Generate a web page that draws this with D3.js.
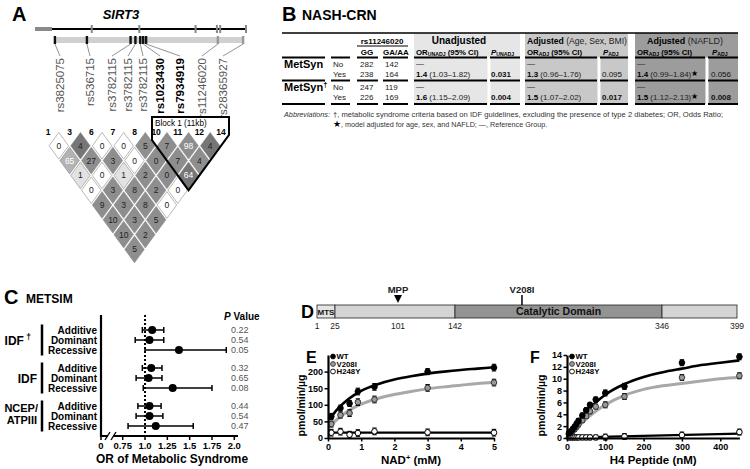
<!DOCTYPE html>
<html><head><meta charset="utf-8">
<script src="https://cdn.jsdelivr.net/npm/d3@7/dist/d3.min.js"></script>
<style>
html,body{margin:0;padding:0;background:#fff;}
svg{display:block;font-family:"Liberation Sans",Arial,Helvetica,sans-serif;}
</style></head>
<body>
<svg id="fig" width="750" height="469"></svg>
<script>
// ================= DATA =================
// Panel A – SIRT3 SNPs and LD
const snpNames = ["rs3825075","rs536715","rs3782115","rs3782115","rs3782115","rs1023430","rs7934919","rs11246020","rs28365927"];
const snpHighlight = [0,0,0,0,0,1,1,0,0];
const snpIds = ["1","3","6","7","8","10","11","12","14"];
const snpGenomic = [1.5, 18, 40.5, 43, 45.5, 47, 48.5, 85.5, 98.5];
const exonGenomic = [20.5, 45, 74, 85, 86.7, 100];
const ldValues = [[0,4,0,0,5,7,98,4],[65,27,3,0,0,7,4],[1,0,1,2,0,64],[0,3,8,2,0],[9,3,8,0],[10,3,5],[10,2],[5]];
const ldClass  = [[0,3,0,0,2,2,2,3],[1,2,2,0,2,2,2],[4,0,4,2,2,3],[0,2,2,2,0],[2,2,2,0],[2,2,2],[2,2],[2]];
const blockLabel = "Block 1 (11kb)";

// Panel B – NASH-CRN table
const tblRows = ["MetSyn","MetSyn"];
const tblDagger = [false,true];
const tblSub = ["No","Yes"];
const tblGG = [[282,238],[247,226]];
const tblGA = [[142,164],[119,169]];
const orUnadjEst = ["1.4","1.6"], orUnadjCI = ["(1.03–1.82)","(1.15–2.09)"], pUnadj = ["0.031","0.004"], pUnadjSig = [true,true];
const orAdjEst = ["1.3","1.5"], orAdjCI = ["(0.96–1.76)","(1.07–2.02)"], pAdj = ["0.095","0.017"], pAdjSig = [false,true];
const orNafEst = ["1.4","1.5"], orNafCI = ["(0.99–1.84)","(1.12–2.13)"], pNaf = ["0.056","0.008"], pNafSig = [false,true];

// Panel C – METSIM forest plot
const cGroups = ["IDF","IDF","NCEP/ATPIII"];
const cModels = ["Additive","Dominant","Recessive"];
const cOR = [1.08,1.05,1.38, 1.07,1.04,1.31, 1.05,1.05,1.12];
const cLo = [0.97,0.89,1.00, 0.97,0.90,0.98, 0.92,0.90,0.81];
const cHi = [1.21,1.21,1.91, 1.19,1.19,1.75, 1.18,1.20,1.54];
const cP  = ["0.22","0.54","0.05","0.32","0.65","0.08","0.44","0.54","0.47"];
const cTicks = [0.75,1.0,1.25,1.5,1.75,2.0];
const cTickLabels = ["0.75","1.0","1.25","1.5","1.75","2.0"];

// Panel D – SIRT3 domains
const dTicks = [1,25,101,142,346,399];
const dSegStart = [1,25,142,346];
const dSegEnd = [25,142,346,399];
const dSegName = ["MTS","","Catalytic Domain",""];
const dSites = [{name:"MPP", pos:101, kind:"cleave"},{name:"V208I", pos:208, kind:"variant"}];

// Panel E – NAD+ kinetics
const eX   = [0.1,0.375,0.65,0.9,1.4,3,5];
const eWT  = [65,90,104,140,154,200,212];
const eWTe = [9,9,9,10,10,9,10];
const eV   = [42,69,75,108,116,151,167];
const eVe  = [9,9,10,10,10,10,10];
const eH   = [16,19,10,15,20,17,16];
const eHe  = [10,10,10,10,10,10,10];
const eFitX  = [0.08,0.15,0.25,0.35,0.5,0.75,1,1.5,2,2.5,3,3.5,4,4.5,5];
const eFitWT = [60,70,83,94,108,127,142,162,176,186,194,200,205,209,213];
const eFitV  = [36,44,54,62,74,90,102,119,131,140,148,154,159,164,167];
const eFitHX = [0.1,5];
const eFitH  = [16,16];

// Panel F – H4 peptide kinetics
const fX   = [5,10,15,20,25,30,40,50,60,75,100,150,300,450];
const fWT  = [0.8,1.1,1.5,1.9,2.4,2.9,3.8,4.7,5.6,6.5,7.6,8.7,12.7,13.7];
const fWTe = [0.4,0.4,0.4,0.4,0.4,0.4,0.4,0.4,0.4,0.4,0.5,0.5,0.5,0.5];
const fV   = [0.6,0.9,1.2,1.5,1.9,2.3,3.0,3.7,4.5,5.3,5.6,7.0,10.2,10.5];
const fVe  = [0.4,0.4,0.4,0.4,0.4,0.4,0.4,0.4,0.4,0.4,0.5,0.5,0.5,0.5];
const fH   = [0.1,0.1,0.1,0.1,0.1,0.1,0.1,0.1,0.1,0.1,0.15,0.25,0.5,1.0];
const fHe  = [0.4,0.4,0.4,0.4,0.4,0.4,0.4,0.4,0.4,0.4,0.5,0.5,0.5,0.5];
const fFitX  = [2,25,50,75,100,150,200,250,300,350,400,450];
const fFitWT = [0.1,2.4,4.4,6.0,7.3,9.1,10.3,11.1,11.7,12.3,12.7,13.1];
const fFitV  = [0.1,1.7,3.2,4.5,5.6,7.2,8.2,8.8,9.2,9.6,10.0,10.2];
const fFitHX = [2,450];
const fFitH  = [0.05,0.75];

const legendNames = ["WT","V208I","H248Y"];

// ================= DRAWING =================
const FONT = '"Liberation Sans", Arial, Helvetica, sans-serif';
const svg = d3.select("#fig");
function T(g, x, y, s, o = {}) {
  const t = g.append("text").attr("x", x).attr("y", y)
    .attr("font-size", o.size || 10)
    .attr("font-weight", o.bold ? "bold" : "normal")
    .attr("fill", o.fill || "#000")
    .attr("text-anchor", o.anchor || "start");
  if (o.italic) t.attr("font-style", "italic");
  if (o.len) t.attr("textLength", o.len).attr("lengthAdjust", "spacingAndGlyphs");
  if (s !== null && s !== undefined) t.text(s);
  return t;
}
function L(g, x1, y1, x2, y2, w, c) {
  return g.append("line").attr("x1", x1).attr("y1", y1).attr("x2", x2).attr("y2", y2)
    .attr("stroke", c || "#000").attr("stroke-width", w || 1);
}

// ---------- PANEL A ----------
const A = svg.append("g");
T(A, 12, 21, "A", {size: 20, bold: true});
T(A, 121, 19, "SIRT3", {size: 13, bold: true, italic: true, anchor: "middle"});
const gx = d3.scaleLinear().domain([0, 100]).range([52, 246]);
A.append("rect").attr("x", 35).attr("y", 27).attr("width", 17).attr("height", 4).attr("fill", "#8a8a8a");
L(A, gx(0), 29, gx(100), 29, 2);
A.selectAll(".exon").data(exonGenomic).join("rect").attr("x", d => gx(d) - 1).attr("y", 25)
  .attr("width", 2).attr("height", 8).attr("fill", "#888");
A.append("rect").attr("x", gx(1.5)).attr("y", 37).attr("width", gx(98.5) - gx(1.5)).attr("height", 6).attr("fill", "#d0d0d0");
const lx = d3.scaleLinear().domain([0,1,2,3,4,5,6,7,8]).range([60,90,112,128,143,160,180,202,223]);
A.selectAll(".mk").data(snpGenomic).join("rect").attr("x", d => gx(d) - 1.2).attr("y", 36)
  .attr("width", 2.4).attr("height", 8).attr("fill", (d, i) => i >= 7 ? "#999" : "#111");
A.selectAll(".lead").data(snpGenomic).join("line").attr("x1", d => gx(d)).attr("y1", 44)
  .attr("x2", (d, i) => lx(i)).attr("y2", 56).attr("stroke", "#777").attr("stroke-width", 0.8);
A.selectAll(".snp").data(snpNames).join("text")
  .attr("transform", (d, i) => `translate(${lx(i)},58) rotate(-90)`)
  .attr("dy", "0.35em").attr("text-anchor", "end").attr("font-size", 11.5)
  .attr("font-weight", (d, i) => snpHighlight[i] ? "bold" : "normal")
  .attr("fill", (d, i) => snpHighlight[i] ? "#000" : "#555").text(d => d);

const sx = d3.scaleLinear().domain([0, 8]).range([48, 221]);
const hw = (sx(1) - sx(0)) / 2, hh = 14.8, ldTop = 131;
const ldColor = d3.scaleOrdinal().domain([0,1,2,3,4]).range(["#ffffff","#b3b3b3","#8e8e8e","#767676","#e2e2e2"]);
const cells = [];
ldValues.forEach((row, r) => row.forEach((v, i) => cells.push({
  v, c: ldClass[r][i], cx: (sx(i) + sx(i + r + 1)) / 2, cy: ldTop + hh * (r + 1)
})));
const k = 0.9;
A.selectAll(".ld").data(cells).join("path")
  .attr("d", d => `M${d.cx},${d.cy - hh * k}L${d.cx + hw * k},${d.cy}L${d.cx},${d.cy + hh * k}L${d.cx - hw * k},${d.cy}Z`)
  .attr("fill", d => ldColor(d.c)).attr("stroke", "#8a8a8a").attr("stroke-width", 0.6);
A.selectAll(".ldt").data(cells).join("text").attr("x", d => d.cx).attr("y", d => d.cy + 3)
  .attr("text-anchor", "middle").attr("font-size", 8.5)
  .attr("fill", d => d.v >= 50 ? "#fff" : "#222").text(d => d.v);
A.selectAll(".sid").data(snpIds).join("text").attr("x", (d, i) => sx(i)).attr("y", 134.5)
  .attr("text-anchor", "middle").attr("font-size", 8.5).attr("font-weight", "bold").text(d => d);
const bL = 152, bR = 229, bTop = 117;
const bBot = {x: (sx(5) + sx(8)) / 2, y: ldTop + hh * 4};
const slope = hh / hw;
A.append("path").attr("d", `M${bL},${bTop}H${bR}V${bBot.y - (bR - bBot.x) * slope}L${bBot.x},${bBot.y}L${bL},${bBot.y - (bBot.x - bL) * slope}Z`)
  .attr("fill", "none").attr("stroke", "#000").attr("stroke-width", 2);
T(A, bL + 3, 125.5, blockLabel, {size: 8.2});

// ---------- PANEL B ----------
const B = svg.append("g");
T(B, 282, 21, "B", {size: 20, bold: true});
T(B, 302, 20, "NASH-CRN", {size: 14, bold: true});
const tTop = 33, tHdr = 57.5, tBot = 104;
const rowTop = [57.5, 80.5];
const blocks = [[414,520,"#e6e6e6"],[525,628,"#c8c8c8"],[635,738,"#9c9c9c"]];
blocks.forEach(b => B.append("rect").attr("x", b[0]).attr("y", tTop).attr("width", b[1] - b[0]).attr("height", tBot - tTop).attr("fill", b[2]));
[487.5, 597.5, 705.5].forEach(x => B.append("rect").attr("x", x).attr("y", tHdr).attr("width", 3).attr("height", tBot - tHdr).attr("fill", "#fff"));
L(B, 282, tTop, 738, tTop, 1.5);
const segs = [[282,325],[331,350],[357,378],[383,408],[414,487],[490,520],[525,597],[600,628],[635,705],[708,738]];
[tHdr, rowTop[1], tBot].forEach(y => segs.forEach(s => L(B, s[0], y, s[1], y, 2)));
T(B, 382, 43.5, "rs11246020", {size: 8, bold: true, anchor: "middle"});
L(B, 357, 46, 408, 46, 1);
T(B, 367, 54.5, "GG", {size: 8, bold: true, anchor: "middle"});
T(B, 396, 54.5, "GA/AA", {size: 8, bold: true, anchor: "middle"});
T(B, 459, 44, "Unadjusted", {size: 10, bold: true, anchor: "middle"});
const hA = T(B, 527, 44, null, {size: 9.5, len: 100});
hA.append("tspan").attr("font-weight", "bold").text("Adjusted");
hA.append("tspan").attr("fill", "#222").text(" (Age, Sex, BMI)");
const hN = T(B, 647, 44, null, {size: 9.5, len: 76});
hN.append("tspan").attr("font-weight", "bold").text("Adjusted");
hN.append("tspan").attr("fill", "#222").text(" (NAFLD)");
function orHead(x, sub) {
  const h = T(B, x, 54.5, null, {size: 7.8, bold: true});
  h.append("tspan").text("OR");
  h.append("tspan").attr("font-size", 5.2).attr("dy", 1.5).text(sub);
  h.append("tspan").attr("dy", -1.5).text(" (95% CI)");
}
function pHead(x, sub) {
  const h = T(B, x, 54.5, null, {size: 7.8, bold: true});
  h.append("tspan").attr("font-style", "italic").text("P");
  h.append("tspan").attr("font-size", 5.2).attr("dy", 1.5).text(sub);
}
orHead(416, "UNADJ"); pHead(491, "UNADJ");
orHead(527, "ADJ"); pHead(603, "ADJ");
orHead(637, "ADJ"); pHead(712, "ADJ");
function orCell(x, y, est, ci, star) {
  const t = T(B, x, y, null, {size: 8, fill: "#222"});
  t.append("tspan").attr("font-weight", "bold").attr("fill", "#000").text(est);
  t.append("tspan").text(" " + ci);
  if (star) t.append("tspan").attr("font-size", 7.5).attr("dy", -1).attr("fill", "#000").text("★");
}
tblRows.forEach((name, r) => {
  const y0 = rowTop[r];
  const nt = T(B, 284, y0 + 10, null, {size: 11, bold: true});
  nt.append("tspan").text(name);
  if (tblDagger[r]) nt.append("tspan").attr("font-size", 7.5).attr("dy", -4).text("†");
  tblSub.forEach((s, j) => {
    const y = y0 + 9 + j * 10.5;
    T(B, 333, y, s, {size: 8, fill: "#222"});
    T(B, 360, y, tblGG[r][j], {size: 8, fill: "#222"});
    T(B, 385, y, tblGA[r][j], {size: 8, fill: "#222"});
  });
  [416, 527, 637].forEach(x => T(B, x, y0 + 8.5, "—", {size: 8, fill: "#222"}));
  const yy = y0 + 19.5;
  orCell(416, yy, orUnadjEst[r], orUnadjCI[r], false);
  orCell(527, yy, orAdjEst[r], orAdjCI[r], false);
  orCell(637, yy, orNafEst[r], orNafCI[r], true);
  T(B, 491, yy, pUnadj[r], {size: 8, bold: pUnadjSig[r], fill: "#111"});
  T(B, 602, yy, pAdj[r], {size: 8, bold: pAdjSig[r], fill: "#111"});
  T(B, 711, yy, pNaf[r], {size: 8, bold: pNafSig[r], fill: "#111"});
});
T(B, 284, 117, "Abbreviations:", {size: 7.2, italic: true, fill: "#333", len: 46});
T(B, 333, 117, "†, metabolic syndrome criteria based on IDF guidelines, excluding the presence of type 2 diabetes; OR, Odds Ratio;", {size: 7.2, fill: "#333", len: 390});
const ab2 = T(B, 333, 127, null, {size: 7.2, fill: "#333"});
ab2.append("tspan").attr("font-size", 8.5).attr("fill", "#000").text("★");
ab2.append("tspan").text(", model adjusted for age, sex, and NAFLD; —, Reference Group.");

// ---------- PANEL C ----------
const C = svg.append("g");
T(C, 4, 304, "C", {size: 20, bold: true});
T(C, 26, 303, "METSIM", {size: 12, bold: true});
const cxs = d3.scaleLinear().domain([0.75, 2.0]).range([122.7, 234.3]);
const cx0 = 101, cAxisY = 436, cTopY = 315;
const cy = d3.scaleLinear().domain([0, 9.6]).range([330, 426]);
const cRow = i => cy(Math.floor(i / 3) * 3.8 + (i % 3));
L(C, cxs(1), cTopY, cxs(1), cAxisY, 2).attr("stroke-dasharray", "2,2");
L(C, cx0, cTopY, cx0, cAxisY + 1, 2.2);
L(C, cx0 - 1, cAxisY, 238, cAxisY, 2.2);
C.append("rect").attr("x", 108).attr("y", cAxisY - 4).attr("width", 5).attr("height", 8).attr("fill", "#fff");
L(C, 105, cAxisY + 4, 110, cAxisY - 4, 1.4); L(C, 111, cAxisY + 4, 116, cAxisY - 4, 1.4);
L(C, cx0, cAxisY, cx0, cAxisY + 4, 1.5);
T(C, cx0, 449, "0", {size: 9.5, bold: true, anchor: "middle"});
cTicks.forEach((t, i) => {
  L(C, cxs(t), cAxisY, cxs(t), cAxisY + 4, 1.5);
  T(C, cxs(t), 449, cTickLabels[i], {size: 9.5, bold: true, anchor: "middle"});
});
T(C, 172, 463, "OR of Metabolic Syndrome", {size: 12, bold: true, anchor: "middle", len: 152});
const ph = T(C, 224, 320, null, {size: 10, bold: true});
ph.append("tspan").attr("font-style", "italic").text("P");
ph.append("tspan").text(" Value");
cOR.forEach((v, i) => {
  const y = cRow(i);
  T(C, 97, y + 3.5, cModels[i % 3], {size: 10, bold: true, anchor: "end"});
  L(C, cxs(cLo[i]), y, cxs(cHi[i]), y, 1.5);
  L(C, cxs(cLo[i]), y - 3, cxs(cLo[i]), y + 3, 1.5);
  L(C, cxs(cHi[i]), y - 3, cxs(cHi[i]), y + 3, 1.5);
  C.append("circle").attr("cx", cxs(v)).attr("cy", y).attr("r", 4).attr("fill", "#000");
  T(C, 231, y + 3.3, cP[i], {size: 9, fill: "#555"});
});
[0, 1, 2].forEach(g => L(C, 42, cRow(g * 3) - 5.5, 42, cRow(g * 3 + 2) + 5.5, 2.5));
const g0 = T(C, 31, cRow(1) + 4.5, null, {size: 12, bold: true, anchor: "end"});
g0.append("tspan").text(cGroups[0]);
g0.append("tspan").attr("font-size", 8.5).attr("dy", -5).text(" †");
T(C, 37, cRow(4) + 4.5, cGroups[1], {size: 12, bold: true, anchor: "end"});
const ncep = cGroups[2].split("/");
T(C, 38, cRow(6) + 6, ncep[0] + "/", {size: 11, bold: true, anchor: "end"});
T(C, 37, cRow(7) + 8, ncep[1], {size: 11, bold: true, anchor: "end"});

// ---------- PANEL D ----------
const D = svg.append("g");
T(D, 301, 318, "D", {size: 18, bold: true});
const dx = d3.scaleLinear().domain(dTicks).range([317, 335, 398, 455, 662, 737]);
const dTop = 305, dH = 13;
const dFill = ["#e4e4e4", "#d4d4d4", "#939393", "#d4d4d4"];
dSegStart.forEach((s, i) => {
  D.append("rect").attr("x", dx(s)).attr("y", dTop).attr("width", dx(dSegEnd[i]) - dx(s)).attr("height", dH)
    .attr("fill", dFill[i]).attr("stroke", "#222").attr("stroke-width", 0.8);
  if (dSegName[i]) T(D, (dx(s) + dx(dSegEnd[i])) / 2, dTop + 9.8, dSegName[i], {size: i === 0 ? 8 : 10.5, bold: true, anchor: "middle", fill: "#111"});
});
dTicks.forEach(t => T(D, dx(t), dTop + dH + 11, t, {size: 8.5, anchor: "middle", fill: "#222"}));
dSites.forEach(s => {
  const x = dx(s.pos);
  T(D, x, 293, s.name, {size: 9.5, bold: true, anchor: "middle", fill: "#222"});
  if (s.kind === "cleave") D.append("path").attr("d", `M${x - 4},295L${x + 4},295L${x},303Z`).attr("fill", "#000");
  else L(D, x, 295, x, dTop, 1.5);
});

// ---------- PANELS E & F ----------
const markerStyle = [{fill: "#000", stroke: "#000"}, {fill: "#9a9a9a", stroke: "#333"}, {fill: "#fff", stroke: "#000"}];
function kinetic(o) {
  const g = svg.append("g");
  const x = d3.scaleLinear().domain(o.xDom).range([o.left, o.right]);
  const y = d3.scaleLinear().domain(o.yDom).range([o.bottom, o.top]);
  const line = d3.line().x(d => x(d[0])).y(d => y(d[1])).curve(d3.curveMonotoneX);
  o.fits.forEach(f => g.append("path").datum(f.x.map((d, i) => [d, f.y[i]]))
    .attr("d", line).attr("fill", "none").attr("stroke", f.color).attr("stroke-width", f.w));
  o.series.slice().reverse().forEach(s => {
    const pts = o.X.map((d, i) => ({x: d, v: s.v[i], e: s.e[i]}));
    const sg = g.append("g");
    sg.selectAll(".eb").data(pts).join("line").attr("x1", d => x(d.x)).attr("x2", d => x(d.x))
      .attr("y1", d => y(d.v - d.e)).attr("y2", d => y(d.v + d.e)).attr("stroke", "#000").attr("stroke-width", 1.1);
    [-1, 1].forEach(sg2 => sg.selectAll(".cap" + sg2).data(pts).join("line")
      .attr("x1", d => x(d.x) - 2.2).attr("x2", d => x(d.x) + 2.2)
      .attr("y1", d => y(d.v + sg2 * d.e)).attr("y2", d => y(d.v + sg2 * d.e)).attr("stroke", "#000").attr("stroke-width", 1.1));
    sg.selectAll("circle").data(pts).join("circle").attr("cx", d => x(d.x)).attr("cy", d => y(d.v)).attr("r", 2.8)
      .attr("fill", s.style.fill).attr("stroke", s.style.stroke).attr("stroke-width", 1);
  });
  const ax = g.append("g").attr("transform", `translate(0,${o.bottom})`)
    .call(d3.axisBottom(x).tickValues(o.xTicks).tickSize(3.5).tickPadding(2).tickSizeOuter(0).tickFormat(d3.format("d")));
  const ay = g.append("g").attr("transform", `translate(${o.left},0)`)
    .call(d3.axisLeft(y).tickValues(o.yTicks).tickSize(3.5).tickPadding(1.5).tickSizeOuter(0).tickFormat(d3.format("d")));
  [ax, ay].forEach(a => {
    a.attr("font-family", FONT);
    a.select(".domain").attr("stroke-width", 2.2);
    a.selectAll(".tick line").attr("stroke-width", 1.5);
    a.selectAll(".tick text").attr("font-size", 9).attr("font-weight", "bold");
  });
  T(g, 0, 0, "pmol/min/µg", {size: 10.5, bold: true, anchor: "middle"})
    .attr("transform", `translate(${o.ylabX},${(o.top + o.bottom) / 2 + 9}) rotate(-90)`);
  const xt = T(g, (o.left + o.right) / 2, 464, null, {size: 11.5, bold: true, anchor: "middle"});
  o.xTitle.forEach(p => { const ts = xt.append("tspan").text(p.t); if (p.sup) ts.attr("font-size", 7.5).attr("dy", -4.5); else if (p.after) ts.attr("dy", 4.5); });
  T(g, o.letterX, o.top + 7.5, o.letter, {size: 16, bold: true});
  legendNames.forEach((n, i) => {
    const ly = o.top + 1.5 + i * 7.5;
    g.append("circle").attr("cx", o.left + 5).attr("cy", ly).attr("r", 2.4)
      .attr("fill", markerStyle[i].fill).attr("stroke", markerStyle[i].stroke).attr("stroke-width", 0.9);
    T(g, o.left + 8.5, ly + 2.8, n, {size: 7.8, bold: true});
  });
}
kinetic({
  left: 328, right: 494, top: 355, bottom: 438, xDom: [0, 5], yDom: [0, 250],
  xTicks: [0, 1, 2, 3, 4, 5], yTicks: [0, 50, 100, 150, 200], X: eX,
  series: [{v: eWT, e: eWTe, style: markerStyle[0]}, {v: eV, e: eVe, style: markerStyle[1]}, {v: eH, e: eHe, style: markerStyle[2]}],
  fits: [{x: eFitX, y: eFitV, color: "#a8a8a8", w: 3}, {x: eFitX, y: eFitWT, color: "#000", w: 2.6}, {x: eFitHX, y: eFitH, color: "#000", w: 2.2}],
  ylabX: 305, xTitle: [{t: "NAD"}, {t: "+", sup: true}, {t: " (mM)", after: true}], letter: "E", letterX: 306
});
kinetic({
  left: 567, right: 739.4, top: 355, bottom: 438, xDom: [0, 450], yDom: [0, 14],
  xTicks: [0, 100, 200, 300, 400], yTicks: [0, 2, 4, 6, 8, 10, 12, 14], X: fX,
  series: [{v: fWT, e: fWTe, style: markerStyle[0]}, {v: fV, e: fVe, style: markerStyle[1]}, {v: fH, e: fHe, style: markerStyle[2]}],
  fits: [{x: fFitX, y: fFitV, color: "#a8a8a8", w: 3}, {x: fFitX, y: fFitWT, color: "#000", w: 2.6}, {x: fFitHX, y: fFitH, color: "#000", w: 2.2}],
  ylabX: 545, xTitle: [{t: "H4 Peptide (nM)"}], letter: "F", letterX: 530
});
</script>
</body></html>
